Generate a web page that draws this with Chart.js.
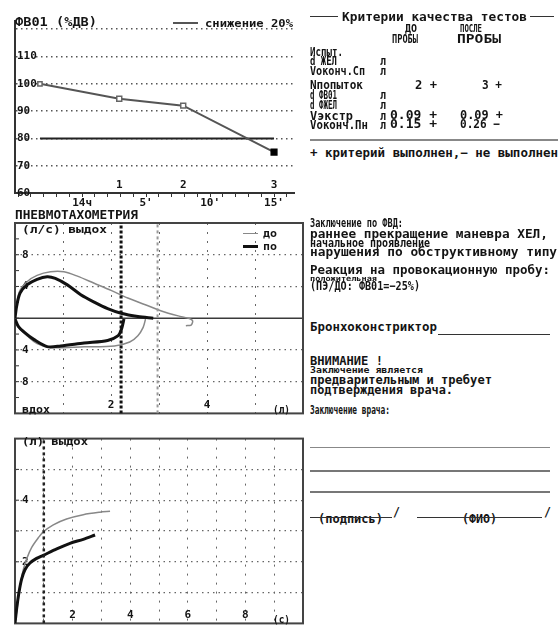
<!DOCTYPE html>
<html>
<head>
<meta charset="utf-8">
<script src="https://cdn.jsdelivr.net/npm/chart.js@4.4.1/dist/chart.umd.min.js"></script>
<style>
html, body { margin: 0; padding: 0; background: #fff; width: 558px; height: 625px; overflow: hidden; position: relative; }
.box { position: absolute; }
.t { position: absolute; white-space: pre; line-height: 1; color: #141414; font-family: "DejaVu Sans Mono", monospace; font-weight: bold; transform-origin: 0 0; }
.r { position: absolute; background: #444; }
</style>
</head>
<body>
<div class="box" style="left:0;top:0;width:300px;height:212px"><canvas id="trend" width="300" height="212"></canvas></div>
<div class="box" style="left:0;top:205px;width:310px;height:222px"><canvas id="loop" width="310" height="222"></canvas></div>
<div class="box" style="left:0;top:425px;width:310px;height:212px"><canvas id="vt" width="310" height="212"></canvas></div>
<script>
// ---- ФВ01 trend (percent of baseline) ----
const testTimes = [-3.3, 2.9, 7.9, 15];          // minutes from the provocation
const fev1Percent = [100, 94.5, 92, 75];
const dropLimit = 80;                              // 20 % fall
const timeTickValues = [0, 5, 10, 15];
const timeTickLabels = ['14ч', "5'", "10'", "15'"];
const pctTickValues = [60, 70, 80, 90, 100, 110];

// ---- flow-volume loops (л, л/с) ----
const beforeExpVol  = [0, 0.035, 0.105, 0.25, 0.46, 0.74, 1.02, 1.30, 1.65, 2.0, 2.35, 2.70, 3.05, 3.40, 3.63, 3.70, 3.67, 3.56];
const beforeExpFlow = [0, 1.94, 3.5, 4.6, 5.4, 5.85, 5.85, 5.3, 4.4, 3.5, 2.55, 1.73, 0.91, 0.29, -0.04, -0.33, -0.86, -0.94];
const beforeInsVol  = [2.72, 2.67, 2.56, 2.39, 2.07, 1.44, 0.74, 0.46, 0.25, 0.07, 0];
const beforeInsFlow = [-0.1, -1.15, -2.2, -3.0, -3.5, -3.6, -3.7, -3.2, -2.2, -1.15, -0.1];
const afterExpVol   = [0, 0.035, 0.105, 0.25, 0.46, 0.67, 0.84, 1.09, 1.37, 1.65, 1.93, 2.21, 2.56, 2.88];
const afterExpFlow  = [0, 1.53, 3.17, 4.2, 4.9, 5.23, 5.02, 4.2, 2.96, 2.02, 1.2, 0.62, 0.21, 0];
const afterInsVol   = [2.27, 2.22, 2.15, 1.93, 1.44, 0.95, 0.67, 0.39, 0.21, 0.07, 0];
const afterInsFlow  = [-0.1, -1.35, -2.2, -2.8, -3.12, -3.5, -3.58, -2.67, -1.85, -1.02, -0.1];
const fev1Litres = [2.97, 2.21];                   // до / по
const flowTickLabels = [-8, -4, 4, 8];
const volTickLabels = [2, 4];

// ---- volume-time curves (с, л) ----
const beforeTime = [0, 0.06, 0.12, 0.2, 0.29, 0.41, 0.58, 0.81, 0.98, 1.33, 1.79, 2.37, 2.95, 3.3];
const beforeVol  = [0, 0.4, 0.82, 1.34, 1.75, 2.11, 2.47, 2.78, 2.97, 3.2, 3.39, 3.53, 3.61, 3.64];
const afterTime  = [0, 0.06, 0.14, 0.23, 0.35, 0.52, 0.75, 0.98, 1.45, 1.91, 2.37, 2.78];
const afterVol   = [0, 0.5, 1.02, 1.44, 1.75, 1.96, 2.11, 2.21, 2.42, 2.6, 2.73, 2.87];
const fev1Second = 1;
const secTickLabels = [2, 4, 6, 8];
const litreTickLabels = [2, 4];

const FONT = '"DejaVu Sans Mono", monospace';
const INK = '#141414';
const TICK_FONT = { family: FONT, size: 11, weight: 'bold' };
const pts = (xs, ys) => xs.map((x, i) => ({ x, y: ys[i] }));

// frame, zero line and inner ticks of the boxed plots
const framePlugin = {
  id: 'frame',
  beforeDatasetsDraw(chart, args, opts) {
    const { ctx, chartArea: a, scales } = chart;
    ctx.save();
    ctx.strokeStyle = '#333';
    ctx.lineWidth = 1;
    scales.y.ticks.forEach(t => {
      const y = scales.y.getPixelForValue(t.value);
      ctx.beginPath(); ctx.moveTo(a.left, y); ctx.lineTo(a.left + 4, y); ctx.stroke();
    });
    if (opts.zero) {
      const y = scales.y.getPixelForValue(0);
      ctx.strokeStyle = '#3a3a3a'; ctx.lineWidth = 1.5;
      ctx.beginPath(); ctx.moveTo(a.left, y); ctx.lineTo(a.right, y); ctx.stroke();
    }
    ctx.strokeStyle = '#444'; ctx.lineWidth = 2;
    ctx.strokeRect(a.left, a.top, a.right - a.left, a.bottom - a.top);
    ctx.restore();
  }
};

// test numbers under the trend points
const testNumbers = {
  id: 'testNumbers',
  afterDatasetsDraw(chart) {
    const { ctx, scales: { x }, chartArea: a } = chart;
    ctx.save();
    ctx.font = 'bold 11px ' + FONT;
    ctx.fillStyle = INK; ctx.textAlign = 'center'; ctx.textBaseline = 'middle';
    testTimes.forEach((t, i) => { if (i > 0) ctx.fillText(String(i), x.getPixelForValue(t), a.bottom - 8); });
    ctx.restore();
  }
};

const base = {
  responsive: false, animation: false, devicePixelRatio: 1,
  plugins: { legend: { display: false }, tooltip: { enabled: false } }
};

// ---------- trend chart ----------
new Chart(document.getElementById('trend'), {
  type: 'scatter',
  data: {
    datasets: [
      {
        data: pts(testTimes, fev1Percent), showLine: true, borderColor: '#555', borderWidth: 2,
        pointStyle: 'rect', pointRadius: [3, 3.5, 3.5, 4],
        pointBackgroundColor: ['#fff', '#fff', '#fff', '#000'],
        pointBorderColor: ['#666', '#666', '#666', '#000'], pointBorderWidth: 1.5
      },
      {
        data: [{ x: testTimes[0], y: dropLimit }, { x: testTimes[testTimes.length - 1], y: dropLimit }],
        showLine: true, borderColor: '#222', borderWidth: 2, pointRadius: 0
      }
    ]
  },
  options: {
    ...base,
    layout: { padding: { left: 15, top: 21, right: 3, bottom: 0 } },
    scales: {
      x: {
        type: 'linear', min: -5.25, max: 16.6,
        afterFit: s => { s.height = 19; },
        ticks: {
          stepSize: 1, includeBounds: false, autoSkip: false, maxRotation: 0, padding: 0,
          color: INK, font: TICK_FONT,
          callback: v => { const i = timeTickValues.indexOf(v); return i >= 0 ? timeTickLabels[i] : ''; }
        },
        grid: { drawOnChartArea: false, drawTicks: true, tickLength: 4, tickColor: '#333', tickWidth: 1 },
        border: { display: true, color: '#333', width: 2 }
      },
      y: {
        min: 60, max: 123,
        afterFit: s => { s.width = 0; },
        ticks: {
          stepSize: 10, includeBounds: false, mirror: true, padding: 2,
          color: INK, font: TICK_FONT,
          callback: v => pctTickValues.includes(v) ? String(v) : ''
        },
        grid: { drawTicks: false, lineWidth: 1.5, color: c => c.tick && c.tick.value === 60 ? 'rgba(0,0,0,0)' : '#555' },
        border: { display: true, color: '#333', width: 2, dash: [1.5, 3.5] }
      }
    }
  },
  plugins: [testNumbers]
});

// ---------- flow-volume loops ----------
new Chart(document.getElementById('loop'), {
  type: 'scatter',
  data: {
    datasets: [
      { data: [{ x: fev1Litres[1], y: -12 }, { x: fev1Litres[1], y: 12 }], showLine: true, borderColor: '#111', borderWidth: 3, borderDash: [3, 2], pointRadius: 0 },
      { data: [{ x: fev1Litres[0], y: -12 }, { x: fev1Litres[0], y: 12 }], showLine: true, borderColor: '#999', borderWidth: 2, borderDash: [3, 3], pointRadius: 0 },
      { data: [{ x: fev1Litres[0], y: 13.2 }], pointStyle: 'line', rotation: -60, pointRadius: 4, borderColor: '#222', pointBorderWidth: 1.5, clip: false },
      { data: pts(afterExpVol, afterExpFlow), showLine: true, borderColor: '#111', borderWidth: 3, pointRadius: 0, tension: 0.3 },
      { data: pts(afterInsVol, afterInsFlow), showLine: true, borderColor: '#111', borderWidth: 3, pointRadius: 0, tension: 0.3 },
      { data: pts(beforeExpVol, beforeExpFlow), showLine: true, borderColor: '#888', borderWidth: 1.5, pointRadius: 0, tension: 0.3 },
      { data: pts(beforeInsVol, beforeInsFlow), showLine: true, borderColor: '#888', borderWidth: 1.5, pointRadius: 0, tension: 0.3 }
    ]
  },
  options: {
    ...base,
    layout: { padding: { left: 15, top: 18, right: 7, bottom: 9 } },
    scales: {
      x: {
        type: 'linear', min: 0, max: 6,
        afterFit: s => { s.height = 0; },
        ticks: {
          stepSize: 1, autoSkip: false, maxRotation: 0, mirror: true, padding: 2,
          color: INK, font: TICK_FONT,
          callback: v => volTickLabels.includes(v) ? String(v) : ''
        },
        grid: { drawTicks: false, lineWidth: 1, color: c => c.tick && c.tick.value > 0 && c.tick.value < 6 ? '#666' : 'rgba(0,0,0,0)' },
        border: { display: false, dash: [2, 7] }
      },
      y: {
        min: -12, max: 12,
        afterFit: s => { s.width = 0; },
        ticks: {
          stepSize: 2, mirror: true, padding: 7,
          color: INK, font: TICK_FONT,
          callback: v => flowTickLabels.includes(v) ? String(Math.abs(v)) : ''
        },
        grid: { drawTicks: false, lineWidth: 1.2, color: c => c.tick && flowTickLabels.includes(c.tick.value) ? '#666' : 'rgba(0,0,0,0)' },
        border: { display: false, dash: [1.5, 4] }
      }
    },
    plugins: { ...base.plugins, frame: { zero: true } }
  },
  plugins: [framePlugin]
});

// ---------- volume-time curves ----------
new Chart(document.getElementById('vt'), {
  type: 'scatter',
  data: {
    datasets: [
      { data: [{ x: fev1Second, y: 0 }, { x: fev1Second, y: 6 }], showLine: true, borderColor: '#222', borderWidth: 2.5, borderDash: [3, 3], pointRadius: 0 },
      { data: pts(afterTime, afterVol), showLine: true, borderColor: '#111', borderWidth: 3, pointRadius: 0, tension: 0.3 },
      { data: pts(beforeTime, beforeVol), showLine: true, borderColor: '#888', borderWidth: 1.5, pointRadius: 0, tension: 0.3 }
    ]
  },
  options: {
    ...base,
    layout: { padding: { left: 15, top: 10, right: 7, bottom: 9 } },
    scales: {
      x: {
        type: 'linear', min: 0, max: 10,
        afterFit: s => { s.height = 0; },
        ticks: {
          stepSize: 1, autoSkip: false, maxRotation: 0, mirror: true, padding: 2,
          color: INK, font: TICK_FONT,
          callback: v => secTickLabels.includes(v) ? String(v) : ''
        },
        grid: { drawTicks: false, lineWidth: 1, color: c => c.tick && c.tick.value > 0 && c.tick.value < 10 ? '#666' : 'rgba(0,0,0,0)' },
        border: { display: false, dash: [2, 7] }
      },
      y: {
        min: 0, max: 6,
        afterFit: s => { s.width = 0; },
        ticks: {
          stepSize: 1, mirror: true, padding: 7,
          color: INK, font: TICK_FONT,
          callback: v => litreTickLabels.includes(v) ? String(v) : ''
        },
        grid: { drawTicks: false, lineWidth: 1.2, color: c => c.tick && c.tick.value > 0 && c.tick.value < 6 ? '#666' : 'rgba(0,0,0,0)' },
        border: { display: false, dash: [1.5, 4] }
      }
    },
    plugins: { ...base.plugins, frame: { zero: false } }
  },
  plugins: [framePlugin]
});

// ---------- printed text of the report ----------
// [text, left, centre y, width, font size]
const texts = [
  ['ФВ01 (%ДВ)', 15, 22, 82, 12],
  ['снижение 20%', 205, 24, 88, 11],
  ['ПНЕВМОТАХОМЕТРИЯ', 15, 215, 123, 12],
  ['(л/с) выдох', 22, 230, 85, 11],
  ['до', 263, 234, 14, 11],
  ['по', 263, 247, 14, 11],
  ['вдох', 22, 410, 28, 11],
  ['(л)', 273, 410, 17, 11],
  ['(л) выдох', 22, 442, 66, 11],
  ['(с)', 273, 620, 17, 11],
  ['Критерии качества тестов', 342, 17, 185, 12],
  ['ДО', 405, 29, 12, 11],
  ['ПОСЛЕ', 460, 29, 22, 11],
  ['ПРОБЫ', 392, 39, 26, 12],
  ['ПРОБЫ', 457, 39, 44, 12],
  ['Испыт.', 310, 52, 33, 12],
  ['d ЖЕЛ', 310, 61.5, 27, 12], ['л', 380, 61.5, 6, 12],
  ['Vоконч.Сп', 310, 71.5, 55, 12], ['л', 380, 71.5, 6, 12],
  ['Nпопыток', 310, 85.5, 53, 12], ['2 +', 415, 85.5, 22, 12.5], ['3 +', 482, 85.5, 20, 12.5],
  ['d ФВ01', 310, 95.5, 27, 12], ['л', 380, 95.5, 6, 12],
  ['d ФЖЕЛ', 310, 105, 27, 12], ['л', 380, 105, 6, 12],
  ['Vэкстр', 310, 116, 43, 12], ['л', 380, 116, 6, 12], ['0.09 +', 390, 116, 47, 12.5], ['0.09 +', 460, 116, 43, 12.5],
  ['Vоконч.Пн', 310, 125, 58, 12], ['л', 380, 125, 6, 12], ['0.15 +', 390, 125, 47, 12.5], ['0.26 −', 460, 125, 40, 12.5],
  ['+ критерий выполнен,− не выполнен', 310, 153, 248, 12],
  ['Заключение по ФВД:', 310, 223, 93, 12],
  ['раннее прекращение маневра ХЕЛ,', 310, 235, 238, 12.5],
  ['начальное проявление', 310, 244.5, 120, 11.5],
  ['нарушения по обструктивному типу', 310, 253, 247, 12.5],
  ['Реакция на провокационную пробу:', 310, 271, 240, 12.5],
  ['положительная', 310, 278.5, 67, 7.5],
  ['(ПЭ/ДО: ФВ01=−25%)', 310, 287, 110, 12.5],
  ['Бронхоконстриктор', 310, 328, 127, 12.5],
  ['ВНИМАНИЕ !', 310, 361, 73, 12],
  ['Заключение является', 310, 371, 113, 8.5],
  ['предварительным и требует', 310, 381, 182, 12.5],
  ['подтверждения врача.', 310, 391, 143, 12.5],
  ['Заключение врача:', 310, 410, 80, 12],
  ['(подпись)', 318, 519, 65, 12],
  ['(ФИО)', 462, 519, 35, 12],
  ['/', 393, 512, 7, 12],
  ['/', 544, 512, 7, 12]
];
texts.forEach(([s, x, yc, w, size]) => {
  const el = document.createElement('div');
  el.className = 't';
  el.textContent = s;
  el.style.fontSize = size + 'px';
  el.style.left = x + 'px';
  el.style.top = (yc - 0.53 * size) + 'px';
  document.body.appendChild(el);
  const nat = el.getBoundingClientRect().width;
  el.style.transform = 'scaleX(' + (w / nat).toFixed(3) + ')';
});

// rules and legend keys: [left, centre y, width, thickness, colour]
const rules = [
  [173, 23, 25, 2.5, '#555'],
  [243, 233.5, 15, 1.5, '#888'],
  [243, 246, 15, 3, '#111'],
  [310, 16.5, 28, 1.5, '#333'],
  [530, 16.5, 24, 1.5, '#333'],
  [310, 140, 248, 2, '#888'],
  [438, 334.5, 112, 1.5, '#333'],
  [310, 447.5, 240, 1, '#888'],
  [310, 471, 240, 2, '#777'],
  [310, 492, 240, 2, '#777'],
  [310, 517.5, 82, 1.5, '#333'],
  [417, 517.5, 125, 1.5, '#333']
];
rules.forEach(([x, y, w, h, c]) => {
  const el = document.createElement('div');
  el.className = 'r';
  el.style.left = x + 'px'; el.style.top = (y - h / 2) + 'px';
  el.style.width = w + 'px'; el.style.height = h + 'px';
  el.style.background = c;
  document.body.appendChild(el);
});
</script>
</body>
</html>
